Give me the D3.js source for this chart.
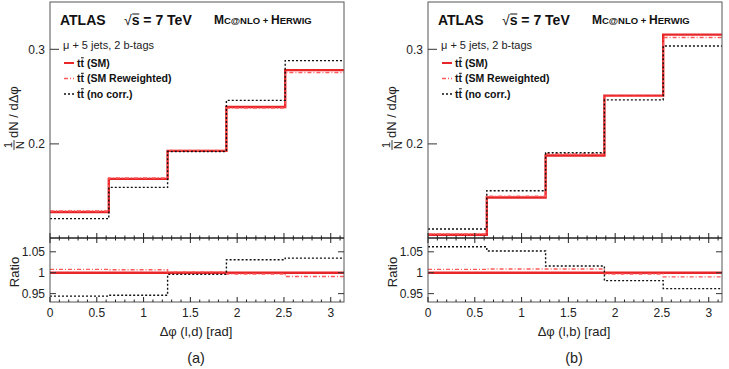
<!DOCTYPE html>
<html><head><meta charset="utf-8">
<script src="https://cdn.jsdelivr.net/npm/d3@7"></script>
<style>
body{margin:0;background:#fff;}
text{font-family:"Liberation Sans",Arial,Helvetica,sans-serif;}
</style></head>
<body><svg id="c" width="729" height="369"></svg>
<script>
// ---- data ----
const binEdges = [0, 0.6283, 1.2566, 1.885, 2.5133, 3.1416];
const xTicksMajor = [0, 0.5, 1, 1.5, 2, 2.5, 3];
const xTickLabels = ["0", "0.5", "1", "1.5", "2", "2.5", "3"];
const mainYTicks = [0.2, 0.3];
const mainYLabels = ["0.2", "0.3"];
const ratioYTicks = [0.95, 1, 1.05];
const ratioYLabels = ["0.95", "1", "1.05"];
const seriesNames = ["SM", "SM Reweighted", "no corr."];

// panel (a): Δφ(l,d)
const smA       = [0.128, 0.163, 0.1926, 0.239, 0.278];
const rewA      = [0.129, 0.164, 0.193, 0.238, 0.2755];
const noCorrA   = [0.121, 0.154, 0.192, 0.246, 0.288];
const ratioSmA  = [1, 1, 1, 1, 1];
const ratioRewA = [1.008, 1.007, 1.002, 0.997, 0.991];
const ratioNoCorrA = [0.944, 0.946, 0.996, 1.031, 1.035];

// panel (b): Δφ(l,b)
const smB       = [0.104, 0.1433, 0.1877, 0.251, 0.3155];
const rewB      = [0.1048, 0.1446, 0.1894, 0.2502, 0.3124];
const noCorrB   = [0.110, 0.1505, 0.1907, 0.2465, 0.3035];
const ratioSmB  = [1, 1, 1, 1, 1];
const ratioRewB = [1.008, 1.009, 1.009, 0.997, 0.990];
const ratioNoCorrB = [1.062, 1.052, 1.016, 0.981, 0.962];

const panelDefs = [
  {dx: 0,   var: "l,d", tag: "(a)", main: [smA, rewA, noCorrA], ratio: [ratioSmA, ratioRewA, ratioNoCorrA]},
  {dx: 378, var: "l,b", tag: "(b)", main: [smB, rewB, noCorrB], ratio: [ratioSmB, ratioRewB, ratioNoCorrB]}
];

// ---- styles ----
const styles = [
  {stroke: "#e8262a", width: 2.4, dash: null},
  {stroke: "#ff5a5a", width: 1.4, dash: "4,2,1,2"},
  {stroke: "#111",    width: 1.4, dash: "2,2"}
];

const svg = d3.select("#c");
const L = 50, R = 344, T = 2, MB = 238, RB = 302;

function overlineChar(g, textSel, idx, color, dy) {
  const n = textSel.node();
  const st = n.getStartPositionOfChar(idx);
  const en = n.getEndPositionOfChar(idx);
  g.append("line").attr("x1", st.x + 0.5).attr("x2", en.x - 0.2)
    .attr("y1", st.y - dy).attr("y2", st.y - dy)
    .attr("stroke", color).attr("stroke-width", 1);
}

panelDefs.forEach((p, pi) => {
  const g = svg.append("g").attr("transform", `translate(${p.dx},0)`);
  const x = d3.scaleLinear().domain([0, Math.PI]).range([L, R]);
  const y = d3.scaleLinear().domain([0.1, 0.35]).range([MB + 0.5, T]);
  const yr = d3.scaleLinear().domain([0.93, 1.083]).range([RB, MB]);

  const cid = "clipm" + pi, cidr = "clipr" + pi;
  g.append("clipPath").attr("id", cid).append("rect").attr("x", L).attr("y", T).attr("width", R - L).attr("height", MB - T);
  g.append("clipPath").attr("id", cidr).append("rect").attr("x", L).attr("y", MB).attr("width", R - L).attr("height", RB - MB);

  const stepPts = vals => binEdges.map((e, i) => [e, vals[Math.min(i, vals.length - 1)]]);

  const lineM = d3.line().x(d => x(d[0])).y(d => y(d[1])).curve(d3.curveStepAfter);
  p.main.forEach((vals, si) => {
    const s = styles[si];
    g.append("path").attr("clip-path", `url(#${cid})`).attr("d", lineM(stepPts(vals)))
      .attr("fill", "none").attr("stroke", s.stroke).attr("stroke-width", s.width)
      .attr("stroke-dasharray", s.dash);
  });
  const lineR = d3.line().x(d => x(d[0])).y(d => yr(d[1])).curve(d3.curveStepAfter);
  p.ratio.forEach((vals, si) => {
    const s = styles[si];
    g.append("path").attr("clip-path", `url(#${cidr})`).attr("d", lineR(stepPts(vals)))
      .attr("fill", "none").attr("stroke", s.stroke).attr("stroke-width", s.width)
      .attr("stroke-dasharray", s.dash);
  });

  // frames
  g.append("rect").attr("x", L).attr("y", T).attr("width", R - L).attr("height", RB - T)
    .attr("fill", "none").attr("stroke", "#555").attr("stroke-width", 1);
  g.append("line").attr("x1", L).attr("x2", R).attr("y1", MB).attr("y2", MB)
    .attr("stroke", "#222").attr("stroke-width", 1.4);

  // x ticks
  const minor = d3.range(0, 3.15, 0.1).filter(v => v <= Math.PI);
  minor.forEach(v => {
    const isMaj = Math.abs(v * 2 - Math.round(v * 2)) < 1e-6;
    const len = isMaj ? 5 : 2.5;
    const xx = x(v);
    g.append("line").attr("x1", xx).attr("x2", xx).attr("y1", MB - len).attr("y2", MB + len).attr("stroke", "#222").attr("stroke-width", 1);
    g.append("line").attr("x1", xx).attr("x2", xx).attr("y1", RB).attr("y2", RB - len).attr("stroke", "#222").attr("stroke-width", 1);
  });
  xTicksMajor.forEach((v, i) => {
    g.append("text").attr("x", x(v)).attr("y", 316.5).attr("text-anchor", "middle")
      .attr("font-size", 12).attr("fill", "#222").text(xTickLabels[i]);
  });

  mainYTicks.forEach((v, i) => {
    g.append("line").attr("x1", L).attr("x2", L + 9).attr("y1", y(v)).attr("y2", y(v)).attr("stroke", "#333");
    g.append("text").attr("x", 45).attr("y", y(v) + 4.2).attr("text-anchor", "end")
      .attr("font-size", 12).attr("fill", "#222").text(mainYLabels[i]);
  });
  ratioYTicks.forEach((v, i) => {
    g.append("line").attr("x1", L).attr("x2", L + 6).attr("y1", yr(v)).attr("y2", yr(v)).attr("stroke", "#333");
    g.append("line").attr("x1", R).attr("x2", R - 6).attr("y1", yr(v)).attr("y2", yr(v)).attr("stroke", "#333");
    g.append("text").attr("x", 45).attr("y", yr(v) + 4.2).attr("text-anchor", "end")
      .attr("font-size", 12).attr("fill", "#222").text(ratioYLabels[i]);
  });

  // y titles
  const yt = g.append("g").attr("transform", "translate(17,150) rotate(-90)");
  yt.append("text").attr("x", 5).attr("y", -5).attr("text-anchor", "middle").attr("font-size", 11).attr("fill", "#222").text("1");
  yt.append("line").attr("x1", 0).attr("x2", 10).attr("y1", -3).attr("y2", -3).attr("stroke", "#222").attr("stroke-width", 0.9);
  yt.append("text").attr("x", 5).attr("y", 7).attr("text-anchor", "middle").attr("font-size", 11.5).attr("fill", "#222").text("N");
  yt.append("text").attr("x", 12).attr("y", 1).attr("font-size", 13).attr("fill", "#222").text("dN / dΔφ");

  g.append("text").attr("transform", "translate(19,272) rotate(-90)").attr("text-anchor", "middle")
    .attr("font-size", 13).attr("fill", "#222").text("Ratio");

  g.append("text").attr("x", 196).attr("y", 336).attr("text-anchor", "middle")
    .attr("font-size", 13).attr("fill", "#222").text(`Δφ (${p.var}) [rad]`);
  g.append("text").attr("x", 196).attr("y", 363).attr("text-anchor", "middle")
    .attr("font-size", 14.5).attr("fill", "#222").text(p.tag);

  // header
  g.append("text").attr("x", 60).attr("y", 25).attr("font-size", 14).attr("font-weight", "bold").attr("fill", "#111").text("ATLAS");
  const rs = g.append("text").attr("x", 124).attr("y", 25).attr("font-size", 14).attr("font-weight", "bold").attr("fill", "#111");
  rs.append("tspan").attr("font-weight", "normal").text("√");
  rs.append("tspan").text("s = 7 TeV");
  overlineChar(g, rs, 1, "#111", 11);
  const mc = g.append("text").attr("x", 214).attr("y", 24).attr("font-weight", "bold").attr("fill", "#111");
  mc.append("tspan").attr("font-size", 12).text("M");
  mc.append("tspan").attr("font-size", 9.5).text("C@NLO + ");
  mc.append("tspan").attr("font-size", 12).text("H");
  mc.append("tspan").attr("font-size", 9.5).text("ERWIG");

  // legend
  g.append("text").attr("x", 63).attr("y", 49).attr("font-size", 11).attr("fill", "#222").text("μ + 5 jets, 2 b-tags");
  seriesNames.forEach((n, i) => {
    const ly = 63 + i * 15.5;
    const s = styles[i];
    g.append("line").attr("x1", 64).attr("x2", 74).attr("y1", ly).attr("y2", ly)
      .attr("stroke", s.stroke).attr("stroke-width", i === 0 ? 2 : 1.4).attr("stroke-dasharray", s.dash);
    const t = g.append("text").attr("x", 77).attr("y", ly + 3.8).attr("font-size", 10.5).attr("font-weight", "bold").attr("fill", "#111")
      .text(`tt (${n})`);
    overlineChar(g, t, 1, "#111", 9);
  });
});
</script></body></html>
